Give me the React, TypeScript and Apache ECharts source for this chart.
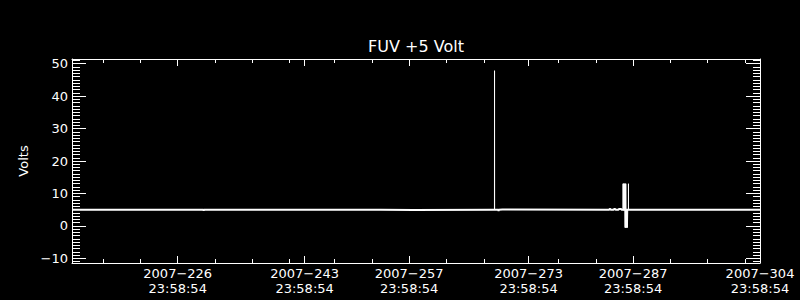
import React, { useEffect, useRef } from "react";
import * as echarts from "echarts";

const chartTitle = "FUV +5 Volt";
const yName = "Volts";

const xTickLabels = [
  "2007-226 23:58:54",
  "2007-243 23:58:54",
  "2007-257 23:58:54",
  "2007-273 23:58:54",
  "2007-287 23:58:54",
  "2007-304 23:58:54",
];
const xMinorTicks = [217, 222, 232, 237, 242, 248, 253, 263, 268, 274, 278, 283, 293, 298, 303];
const yMajorTicks = [-10, 0, 10, 20, 30, 40, 50];

// x axis range in fractional day-of-year 2007 (max = last tick label)
const xMin = 212.84;
const yMin = -11.4;
const yMax = 51.4;

// main voltage trace (day-of-year, volts)
const baseTimes = [212.84, 230.45, 230.48, 230.52, 254.2, 254.25, 258.6, 258.65, 269.4, 269.95, 269.98, 270.02, 270.05, 270.1, 270.5, 270.55, 284.8, 284.85, 284.95, 285.0, 285.4, 285.45, 285.6, 285.65, 286.05, 286.1, 286.4, 286.45, 286.62, 287.5, 305.0];
const baseVolts = [5.0, 5.0, 4.7, 5.0, 5.0, 4.9, 4.9, 5.0, 5.0, 5.0, 4.6, 5.0, 5.1, 5.1, 5.1, 5.0, 5.0, 5.2, 5.2, 5.0, 5.0, 5.2, 5.2, 5.0, 5.0, 5.2, 5.2, 5.0, 5.0, 5.0, 5.0];

// short excursions (null = gap)
const spikeTimes = [269.43, 269.44, 269.45, 269.46, 286.64, 286.66, 286.7, 286.72, 286.78, 286.8, 286.86, 286.88, 286.93, 286.95, 287.0, 287.02, 287.06, 287.1, 287.14, 287.2, 287.24, 287.28, 287.3, 287.37, 287.38, 287.39];
const spikeVolts = [5.0, 47.8, 5.0, null, 5.0, 13.0, 5.0, 13.0, 4.8, 13.0, 5.0, 13.0, -0.5, 13.0, -0.5, 13.0, -0.5, 5.0, -0.5, 4.9, -0.5, 5.0, null, 5.0, 13.0, 5.0];

const FONT = "DejaVu Sans";
const WHITE = "#ffffff";

function parseTick(s: string): number {
  const day = parseInt(s.slice(5, 8), 10);
  const [hh, mm, ss] = s.slice(9).split(":").map((v) => parseInt(v, 10));
  return day + (hh * 3600 + mm * 60 + ss) / 86400;
}

const xMajorTicks = xTickLabels.map(parseTick);
const xMax = xMajorTicks[xMajorTicks.length - 1];

function formatX(value: number): string {
  let best = 0;
  for (let i = 1; i < xMajorTicks.length; i++) {
    if (Math.abs(xMajorTicks[i] - value) < Math.abs(xMajorTicks[best] - value)) best = i;
  }
  const s = xTickLabels[best];
  return s.slice(0, 8).replace("-", "\u2212") + "\n" + s.slice(9);
}

export default function App() {
  const ref = useRef<HTMLDivElement>(null);

  useEffect(() => {
    if (!ref.current) return;
    const chart = echarts.init(ref.current, undefined, { renderer: "svg" });

    const yMinorTicks: number[] = [];
    for (let v = Math.ceil(yMin); v <= Math.floor(yMax); v++) yMinorTicks.push(v);

    const lineStyle = { color: WHITE, width: 1 };

    const xAx = (position: string, ticks: number[], len: number, showLine: boolean, showLabel: boolean) => ({
      type: "value",
      position,
      min: xMin,
      max: xMax,
      axisLine: { show: showLine, onZero: false, lineStyle },
      axisTick: { show: true, inside: true, length: len, customValues: ticks, lineStyle },
      axisLabel: showLabel
        ? {
            show: true,
            customValues: ticks,
            formatter: (v: number) => formatX(v),
            color: WHITE,
            fontFamily: FONT,
            fontSize: 13,
            lineHeight: 15,
            margin: 3,
            showMinLabel: true,
            showMaxLabel: true,
            hideOverlap: false,
          }
        : { show: false },
      splitLine: { show: false },
    });

    const yAx = (position: string, ticks: number[], len: number, showLine: boolean, showLabel: boolean, withName: boolean) => ({
      type: "value",
      position,
      min: yMin,
      max: yMax,
      name: withName ? yName : "",
      nameLocation: "middle",
      nameRotate: 90,
      nameGap: 39,
      nameTextStyle: { color: WHITE, fontFamily: FONT, fontSize: 13 },
      axisLine: { show: showLine, onZero: false, lineStyle },
      axisTick: { show: true, inside: true, length: len, customValues: ticks, lineStyle },
      axisLabel: showLabel
        ? {
            show: true,
            customValues: ticks,
            formatter: (v: number) => String(v).replace("-", "\u2212"),
            color: WHITE,
            fontFamily: FONT,
            fontSize: 13,
            margin: 4,
            showMinLabel: true,
            showMaxLabel: true,
          }
        : { show: false },
      splitLine: { show: false },
    });

    const baseData = baseTimes.map((t, i) => [Math.min(t, xMax), baseVolts[i]]);
    const spikeData = spikeTimes.map((t, i) => [t, spikeVolts[i] === null ? "-" : spikeVolts[i]]);

    chart.setOption({
      animation: false,
      backgroundColor: "#000000",
      textStyle: { fontFamily: FONT },
      grid: { left: 72, right: 40, top: 59, bottom: 37, containLabel: false, outerBoundsMode: "none" },
      graphic: [
        {
          type: "text",
          x: 416,
          y: 46,
          style: {
            text: chartTitle,
            fill: WHITE,
            fontFamily: FONT,
            fontSize: 16,
            align: "center",
            verticalAlign: "middle",
          },
        },
      ],
      xAxis: [
        xAx("bottom", xMajorTicks, 7, true, true),
        xAx("bottom", xMinorTicks, 4, false, false),
        xAx("top", xMajorTicks, 7, true, false),
        xAx("top", xMinorTicks, 4, false, false),
      ],
      yAxis: [
        yAx("left", yMajorTicks, 14, true, true, true),
        yAx("left", yMinorTicks, 8, false, false, false),
        yAx("right", yMajorTicks, 14, true, false, false),
        yAx("right", yMinorTicks, 7, false, false, false),
      ],
      series: [
        {
          type: "line",
          name: "FUV +5 Volt",
          xAxisIndex: 0,
          yAxisIndex: 0,
          data: baseData,
          showSymbol: false,
          symbol: "none",
          lineStyle: { color: WHITE, width: 2 },
          silent: true,
        },
        {
          type: "line",
          name: "excursions",
          xAxisIndex: 0,
          yAxisIndex: 0,
          data: spikeData,
          showSymbol: false,
          symbol: "none",
          connectNulls: false,
          lineStyle: { color: WHITE, width: 1 },
          silent: true,
        },
      ],
    });

    return () => chart.dispose();
  }, []);

  return (
    <div
      ref={ref}
      style={{ position: "fixed", left: 0, top: 0, width: 800, height: 300, background: "#000" }}
    />
  );
}
